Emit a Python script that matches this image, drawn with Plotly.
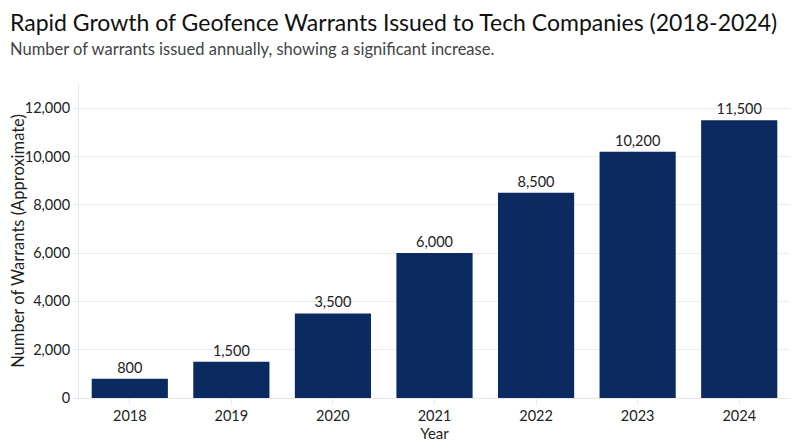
import plotly.graph_objects as go

years = ["2018", "2019", "2020", "2021", "2022", "2023", "2024"]
warrants = [800, 1500, 3500, 6000, 8500, 10200, 11500]
labels = ["800", "1,500", "3,500", "6,000", "8,500", "10,200", "11,500"]

FONT = "Lato"
BAR = "#0b2a5f"

# page body has an 8px margin, so the figure is sized to fit the window
W, H = 792, 439
L, R, TOP, BOTTOM = 71, 10, 76, 49
PH = H - TOP - BOTTOM
PW = W - L - R

def py(pix):
    return (H - BOTTOM - pix) / PH

def px(pix):
    return (pix - L) / PW

fig = go.Figure(go.Bar(
    x=years, y=warrants, text=labels, textposition="outside",
    marker=dict(color=BAR, line=dict(width=0)),
    textfont=dict(size=14.5, color="#222"), cliponaxis=False,
))

fig.update_layout(
    width=W, height=H,
    margin=dict(l=L, r=R, t=TOP, b=BOTTOM, autoexpand=False),
    paper_bgcolor="white", plot_bgcolor="white",
    font=dict(family=FONT, color="#222", size=14),
    bargap=0.25,
    showlegend=False,
    annotations=[
        dict(text="Rapid Growth of Geofence Warrants Issued to Tech Companies (2018-2024)",
             xref="paper", yref="paper", x=px(0), y=py(14), xanchor="left", yanchor="middle",
             showarrow=False, font=dict(size=23, color="#111", family=FONT)),
        dict(text="Number of warrants issued annually, showing a significant increase.",
             xref="paper", yref="paper", x=px(0), y=py(41), xanchor="left", yanchor="middle",
             showarrow=False, font=dict(size=16.5, color="#444", family=FONT)),
    ],
    xaxis=dict(
        title=dict(text="Year", font=dict(size=15), standoff=4),
        showline=True, linecolor="#e8e8e8", ticks="outside", tickcolor="#e8e8e8",
        ticklen=5, tickfont=dict(size=14.5), automargin=False,
    ),
    yaxis=dict(
        title=dict(text="Number of Warrants (Approximate)", font=dict(size=16.5), standoff=3),
        range=[0, 13000], tickvals=[0, 2000, 4000, 6000, 8000, 10000, 12000],
        tickformat=",", showline=True, linecolor="#e8e8e8", ticks="outside",
        tickcolor="#e8e8e8", ticklen=5, gridcolor="#ececec", zeroline=False,
        tickfont=dict(size=14.5), automargin=False,
    ),
)

fig.write_html("out.html")
